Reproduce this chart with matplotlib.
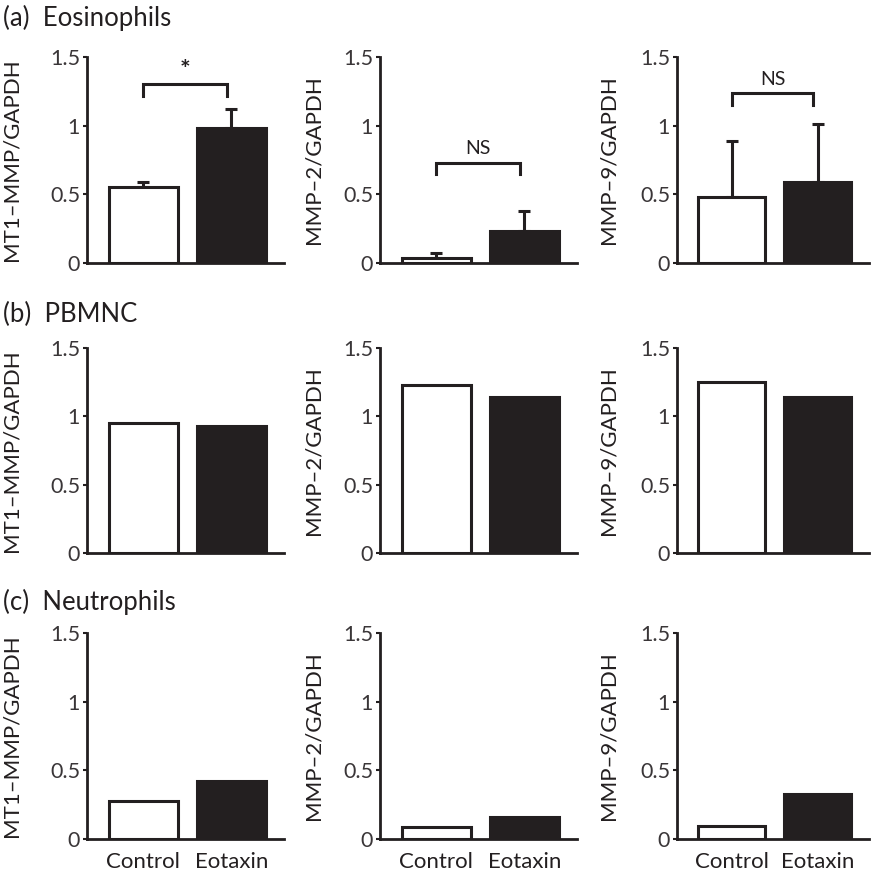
import numpy as np
import matplotlib
matplotlib.use("Agg")
import matplotlib.pyplot as plt

plt.rcParams['font.family'] = ['Lato', 'DejaVu Sans']

INK = '#231f20'
W, H = 872, 876

groups = ['Control', 'Eotaxin']
cell_types = ['(a)  Eosinophils', '(b)  PBMNC', '(c)  Neutrophils']
ylabels = ['MT1\u2013MMP/GAPDH', 'MMP\u20132/GAPDH', 'MMP\u20139/GAPDH']

# ratio to GAPDH, rows = cell type, cols = gene; each pair = (control, eotaxin)
eos_means = [[0.55, 0.98], [0.04, 0.23], [0.48, 0.59]]
eos_sem = [[0.04, 0.14], [0.033, 0.146], [0.41, 0.425]]
pbmnc_means = [[0.95, 0.93], [1.23, 1.145], [1.25, 1.14]]
neut_means = [[0.28, 0.42], [0.09, 0.163], [0.098, 0.33]]

eos_sig = ['*', 'NS', 'NS']
sig_level = [1.30, 0.73, 1.235]

all_means = [eos_means, pbmnc_means, neut_means]

col_left = [87, 380, 677]
col_right = [284, 577, 869]
row_top = [57, 348, 633]
row_bot = [263, 553, 839]
title_y = [18, 314, 602]
ylab_x = [22, 323, 618]

fig = plt.figure(figsize=(W / 100, H / 100), dpi=100)

for r in range(3):
    fig.text(3 / W, 1 - title_y[r] / H, cell_types[r], fontsize=18.5,
             color=INK, ha='left', va='center')
    for c in range(3):
        rect = [col_left[c] / W, 1 - row_bot[r] / H,
                (col_right[c] - col_left[c]) / W, (row_bot[r] - row_top[r]) / H]
        ax = fig.add_axes(rect)
        x = np.arange(len(groups))
        vals = all_means[r][c]
        ax.bar(x, vals, width=0.78, color=['white', INK], edgecolor=INK,
               linewidth=2.2, zorder=3)
        if r == 0:
            ax.errorbar(x, vals, yerr=[[0, 0], eos_sem[c]], fmt='none',
                        ecolor=INK, elinewidth=2.2, capsize=4, capthick=2.2,
                        zorder=2)
            y0 = sig_level[c]
            ax.plot([0, 0, 0.95, 0.95], [y0 - 0.085, y0, y0, y0 - 0.085],
                    color=INK, lw=2.2, solid_joinstyle='miter', clip_on=False)
            if eos_sig[c] == '*':
                ax.text(0.475, y0 + 0.02, '*', ha='center', va='bottom',
                        fontsize=18, fontweight='bold', color=INK)
            else:
                ax.text(0.475, y0 + 0.04, eos_sig[c], ha='center', va='bottom',
                        fontsize=14, color=INK)

        ax.set_xlim(-0.64, 1.6)
        ax.set_ylim(0, 1.5)
        ax.set_yticks([0, 0.5, 1, 1.5])
        ax.set_yticklabels(['0', '0.5', '1', '1.5'])
        for s in ['top', 'right']:
            ax.spines[s].set_visible(False)
        for s in ['left', 'bottom']:
            ax.spines[s].set_linewidth(2.0)
            ax.spines[s].set_color(INK)
        ax.tick_params(axis='y', length=3, width=1.5, color=INK, labelsize=15.5,
                       labelcolor='#3a3638', pad=2)
        ax.tick_params(axis='x', length=0)
        ax.set_xticks(x)
        if r == 2:
            ax.set_xticklabels(groups, fontsize=16, color=INK)
            ax.tick_params(axis='x', pad=9)
        else:
            ax.set_xticklabels([])
        ax.set_ylabel(ylabels[c], fontsize=16, color=INK)
        ax.yaxis.set_label_coords((ylab_x[c] - col_left[c]) / (col_right[c] - col_left[c]), 0.5)

fig.savefig('out.png', dpi=100)
